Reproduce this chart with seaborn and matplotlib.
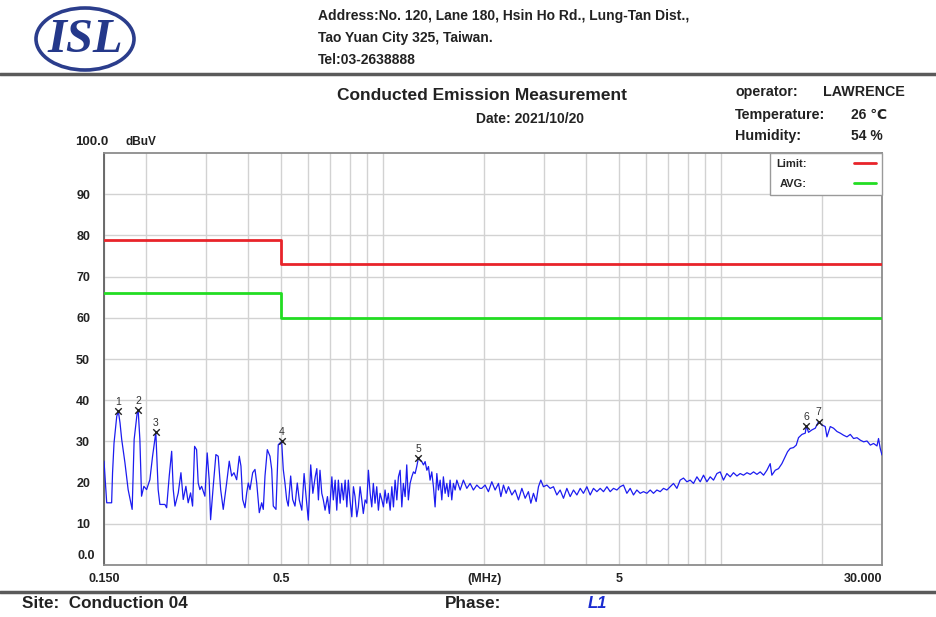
import matplotlib
matplotlib.use("Agg")
import matplotlib.pyplot as plt
import seaborn as sns
import pandas as pd
from matplotlib.lines import Line2D
from matplotlib.patches import Ellipse
from matplotlib.ticker import NullFormatter

# ---------------- data ----------------
seg1_freq = [0.150, 0.1528, 0.158, 0.159, 0.1606, 0.1636, 0.1654, 0.1673, 0.1692, 0.173,
             0.1768, 0.1817, 0.1842, 0.1880, 0.1893, 0.1915, 0.1937, 0.1968, 0.2005, 0.205,
             0.2088, 0.2135, 0.2169, 0.2195, 0.2271, 0.2298, 0.2339, 0.2378, 0.2404, 0.2432,
             0.2487, 0.2533, 0.2573, 0.262, 0.2661, 0.2705, 0.2742, 0.278, 0.2818, 0.2849,
             0.2882, 0.2916, 0.2982, 0.3029, 0.307, 0.31, 0.3156, 0.3214, 0.3265, 0.332,
             0.3379, 0.3458, 0.352, 0.3578, 0.3635, 0.3702, 0.3769, 0.3812, 0.3857, 0.3918,
             0.3964, 0.4007, 0.4054, 0.4129, 0.4194, 0.4244, 0.4319, 0.439, 0.4438, 0.449,
             0.4561, 0.4645, 0.47, 0.4751, 0.4839, 0.4915, 0.5029, 0.5085, 0.5144, 0.5204,
             0.5261, 0.5348, 0.5421, 0.5507, 0.5594]
seg1_level = [25.2, 15.1, 15.1, 22.4, 29.6, 36.1, 37.3, 34.5, 30.5, 24.8,
              18.3, 13.5, 30.5, 36.9, 37.6, 30.5, 16.7, 19.1, 18.3, 20.7,
              26.4, 32.2, 18.3, 14.7, 14.7, 13.9, 21.6, 27.6, 18.3, 14.3,
              17.5, 22.4, 15.9, 19.1, 15.1, 17.5, 14.3, 28.8, 28.0, 19.9,
              18.3, 19.1, 16.7, 27.2, 20.7, 11.0, 19.1, 26.8, 26.4, 18.3,
              13.5, 19.9, 25.2, 21.6, 22.4, 20.7, 26.4, 24.0, 15.9, 13.9,
              17.5, 19.9, 18.3, 22.4, 23.2, 19.9, 12.7, 15.1, 13.5, 21.6,
              28.0, 26.4, 23.2, 14.3, 13.5, 29.2, 30.0, 23.2, 19.9, 15.9,
              14.3, 21.6, 15.9, 14.3, 19.9]

seg2_freq = [0.567, 0.577, 0.586, 0.594, 0.603, 0.613, 0.622, 0.632, 0.639, 0.646,
             0.653, 0.661, 0.668, 0.676, 0.687, 0.696, 0.708, 0.715, 0.724, 0.732,
             0.740, 0.749, 0.757, 0.766, 0.775, 0.784, 0.792, 0.801, 0.811, 0.820,
             0.829, 0.839, 0.848, 0.858, 0.868, 0.877, 0.888, 0.898, 0.908, 0.919,
             0.929, 0.939, 0.950, 0.961, 0.972, 0.983, 0.995, 1.006, 1.017, 1.029,
             1.040, 1.053, 1.065, 1.077, 1.089, 1.102, 1.114, 1.127, 1.140, 1.152,
             1.166, 1.179, 1.192, 1.206, 1.220, 1.234, 1.248, 1.262, 1.276, 1.291,
             1.306, 1.321, 1.336, 1.352, 1.367, 1.382, 1.398, 1.414, 1.430, 1.447,
             1.463, 1.480, 1.497, 1.513, 1.531, 1.549, 1.566, 1.584, 1.602, 1.620,
             1.639, 1.658, 1.696, 1.734, 1.775, 1.815, 1.856, 1.900, 1.943]
seg2_level = [15.8, 13.3, 22.2, 16.6, 10.9, 24.3, 17.4, 21.4, 23.4, 15.8,
              23.0, 17.4, 15.8, 13.3, 16.6, 12.5, 21.4, 15.8, 20.6, 13.3,
              20.6, 15.0, 19.8, 15.8, 20.6, 14.1, 20.6, 15.8, 11.7, 19.0,
              16.6, 11.7, 14.1, 19.0, 15.8, 12.5, 15.8, 15.0, 23.0, 17.4,
              14.1, 19.8, 15.0, 19.0, 13.3, 17.4, 15.8, 14.1, 18.2, 15.0,
              17.4, 13.3, 19.0, 14.1, 20.6, 15.8, 21.4, 23.0, 14.1, 19.8,
              16.6, 24.3, 15.8, 19.8, 21.4, 22.6, 22.2, 23.9, 25.9, 25.5,
              25.1, 24.3, 25.1, 23.0, 23.9, 20.6, 22.6, 19.0, 14.1, 22.2,
              18.2, 20.6, 15.8, 21.4, 17.4, 19.8, 16.6, 20.6, 15.8, 19.8,
              18.2, 20.6, 18.2, 20.6, 18.6, 19.8, 18.2, 19.4, 18.6]

seg3_freq = [1.965, 2.010, 2.056, 2.104, 2.152, 2.202, 2.238, 2.278, 2.320, 2.357,
             2.412, 2.466, 2.523, 2.582, 2.641, 2.700, 2.745, 2.794, 2.846, 2.891,
             2.938, 2.991, 3.062, 3.131, 3.202, 3.277, 3.351, 3.428, 3.508, 3.588,
             3.670, 3.756, 3.842, 3.927, 4.020, 4.112, 4.205, 4.304, 4.402, 4.502,
             4.608, 4.712, 4.819, 4.932, 5.043, 5.158, 5.279, 5.400, 5.522, 5.650,
             5.780, 5.912, 6.050, 6.188, 6.327, 6.476, 6.624, 6.774, 6.933, 7.091,
             7.251, 7.422, 7.589, 7.762, 7.945]
seg3_level = [18.6, 19.4, 17.8, 20.2, 18.2, 19.8, 16.6, 19.4, 17.4, 19.0,
              17.0, 18.2, 15.8, 18.6, 16.2, 17.8, 15.0, 17.4, 15.4, 19.0,
              20.6, 19.0, 19.4, 18.6, 19.0, 17.0, 18.2, 16.2, 18.6, 16.6,
              18.2, 17.0, 18.6, 17.4, 19.0, 17.0, 18.6, 17.8, 18.6, 17.8,
              19.0, 17.8, 18.6, 18.2, 19.0, 19.4, 17.4, 18.6, 17.0, 18.2,
              17.4, 17.8, 17.4, 18.2, 17.4, 18.2, 17.8, 18.6, 18.2, 19.0,
              19.8, 18.6, 20.6, 21.1, 20.2]

seg4_freq = [8.124, 8.311, 8.506, 8.699, 8.897, 9.104, 9.312, 9.524, 9.746, 9.968,
             10.19, 10.43, 10.67, 10.91, 11.17, 11.42, 11.68, 11.96, 12.23, 12.51,
             12.80, 13.09, 13.39, 13.70, 14.01, 14.17, 14.50, 14.83, 15.17, 15.52,
             15.77, 16.06, 16.42, 16.73, 16.99, 17.39, 17.79, 17.91, 18.19, 18.62,
             19.04, 19.47, 19.93, 20.38, 20.62, 21.09, 21.57, 22.08, 22.58, 23.09,
             23.63, 24.17, 24.72, 25.30, 25.88, 26.47, 27.09, 27.71, 28.32, 28.99,
             29.30, 29.64, 30.0]
seg4_level = [20.6, 19.8, 21.4, 20.2, 21.8, 20.2, 21.4, 20.6, 22.2, 22.6,
              20.6, 22.2, 21.4, 22.4, 21.6, 22.2, 21.8, 22.4, 22.0, 22.6,
              22.0, 22.6, 21.8, 23.0, 24.6, 21.8, 23.0, 23.4, 24.6, 26.3,
              27.5, 28.3, 28.5, 29.1, 30.9, 31.7, 32.0, 33.8, 32.2, 32.8,
              33.2, 34.8, 34.0, 33.6, 31.1, 33.6, 33.2, 32.4, 32.0, 31.5,
              31.1, 31.7, 30.7, 30.9, 30.3, 29.9, 30.1, 29.1, 29.5, 28.9,
              30.7, 28.3, 26.7]

limit_freq = [0.15, 0.5, 0.5, 30.0]
limit_qp = [79, 79, 73, 73]
limit_avg = [66, 66, 60, 60]

marker_freq = [0.1654, 0.1893, 0.2135, 0.5029, 1.276, 17.91, 19.47]
marker_level = [37.3, 37.6, 32.2, 30.0, 25.9, 33.8, 34.8]
marker_ids = ["1", "2", "3", "4", "5", "6", "7"]

yticks = [10, 20, 30, 40, 50, 60, 70, 80, 90]
ytick_labels = ["10", "20", "30", "40", "50", "60", "70", "80", "90"]
xticks = [0.15, 0.5, 2, 5, 30]
xtick_labels = ["0.150", "0.5", "(MHz)", "5", "30.000"]
xgrid_minor = [0.2, 0.3, 0.4, 0.6, 0.7, 0.8, 0.9, 1, 3, 4, 6, 7, 8, 9, 10, 20]

# ---------------- style ----------------
sns.set_theme(style="white")
plt.rcParams["font.family"] = ["Liberation Sans", "DejaVu Sans"]
plt.rcParams["font.weight"] = "bold"

RED = "#e8242a"
GREEN = "#22dd22"
BLUE = "#1c1cf0"
GRID = "#d2d2d2"
INK = "#222222"

W, H = 936, 617
fig = plt.figure(figsize=(W / 100, H / 100), dpi=100)
fig.patch.set_facecolor("white")


def fx(px):
    return px / W


def fy(py):
    return 1 - py / H


ax = fig.add_axes([fx(104), fy(565), (882 - 104) / W, (565 - 153) / H])

trace = pd.DataFrame({
    "freq": seg1_freq + seg2_freq + seg3_freq + seg4_freq,
    "level": seg1_level + seg2_level + seg3_level + seg4_level,
})
limits = pd.DataFrame({"freq": limit_freq, "qp": limit_qp, "avg": limit_avg})
markers = pd.DataFrame({"freq": marker_freq, "level": marker_level, "id": marker_ids})

ax.set_xscale("log")
sns.lineplot(data=limits, x="freq", y="qp", estimator=None, sort=False,
             color=RED, lw=2.0, ax=ax, zorder=3)
sns.lineplot(data=limits, x="freq", y="avg", estimator=None, sort=False,
             color=GREEN, lw=2.0, ax=ax, zorder=3)
sns.lineplot(data=trace, x="freq", y="level", estimator=None, sort=False,
             color=BLUE, lw=0.9, ax=ax, zorder=4)
sns.scatterplot(data=markers, x="freq", y="level", marker="x", color="#222222",
                s=22, linewidth=1.0, ax=ax, zorder=5)
for _, r in markers.iterrows():
    ax.annotate(r["id"], (r["freq"], r["level"]), xytext=(0, 3),
                textcoords="offset points", ha="center", va="bottom",
                fontsize=7.5, color="#333333", fontweight="normal", zorder=6)

ax.set_xlim(0.15, 30)
ax.set_ylim(0, 100)
ax.set_xlabel("")
ax.set_ylabel("")

ax.set_xticks(xticks)
ax.set_xticklabels(xtick_labels, fontsize=9, fontweight="bold", color=INK)
ax.get_xticklabels()[-1].set_horizontalalignment("right")
ax.set_xticks(xgrid_minor, minor=True)
ax.xaxis.set_minor_formatter(NullFormatter())
ax.set_yticks(yticks)
ax.set_yticklabels(ytick_labels, fontsize=9, fontweight="bold", color=INK)
ax.tick_params(axis="both", which="both", length=0)
ax.tick_params(axis="x", pad=6)
ax.tick_params(axis="y", pad=10)
ax.grid(True, which="both", axis="x", color=GRID, lw=1.0)
ax.grid(True, which="major", axis="y", color=GRID, lw=1.0)
ax.set_axisbelow(True)
for s in ax.spines.values():
    s.set_color("#8c8c8c")
    s.set_linewidth(1.3)
ax.spines["left"].set_color("#606060")

# y extreme labels
ax.text(-0.012, 2.2, "0.0", transform=ax.get_yaxis_transform(), ha="right",
        va="center", fontsize=9, fontweight="bold", color=INK)
fig.text(fx(75), fy(142), "100.0", ha="left", va="center", fontsize=9.5,
         fontweight="bold", color=INK)
fig.text(fx(125), fy(142), "dBuV", ha="left", va="center", fontsize=8.5,
         fontweight="bold", color=INK)

# legend
handles = [Line2D([], [], color=RED, lw=2), Line2D([], [], color=GREEN, lw=2)]
leg = ax.legend(handles, ["Limit:", "AVG:"], loc="upper right",
                bbox_to_anchor=(1, 1), borderaxespad=0, frameon=True,
                fancybox=False, edgecolor="#9a9a9a", markerfirst=False,
                handlelength=2.0, handletextpad=4.2, borderpad=0.55,
                labelspacing=0.85, prop={"weight": "bold", "size": 8})
leg.get_frame().set_linewidth(1.0)
leg.get_frame().set_alpha(1)

# ---------------- header ----------------
fig.add_artist(Ellipse((fx(85), fy(39)), 98 / W, 62 / H, transform=fig.transFigure,
                       fill=False, edgecolor="#2b3d8c", lw=2.6))
fig.text(fx(85), fy(40), "ISL", ha="center", va="center", fontsize=35,
         family=["Liberation Serif", "DejaVu Serif"], fontweight="bold",
         style="italic", color="#24388a")
fig.text(fx(318), fy(16), "Address:No. 120, Lane 180, Hsin Ho Rd., Lung-Tan Dist.,",
         ha="left", va="center", fontsize=10, fontweight="bold", color=INK)
fig.text(fx(318), fy(38), "Tao Yuan City 325, Taiwan.", ha="left", va="center",
         fontsize=10, fontweight="bold", color=INK)
fig.text(fx(318), fy(60), "Tel:03-2638888", ha="left", va="center",
         fontsize=10, fontweight="bold", color=INK)
fig.add_artist(Line2D([0, 1], [fy(74), fy(74)], transform=fig.transFigure,
                      color="#5a5a5a", lw=2.5))

fig.text(fx(482), fy(96), "Conducted Emission Measurement", ha="center",
         va="center", fontsize=12.5, fontweight="bold", color=INK)
fig.text(fx(530), fy(119), "Date: 2021/10/20", ha="center", va="center",
         fontsize=10, fontweight="bold", color=INK)

fig.text(fx(735), fy(92), "operator:", ha="left", va="center", fontsize=10.3,
         fontweight="bold", color=INK)
fig.text(fx(823), fy(92), "LAWRENCE", ha="left", va="center", fontsize=10.3,
         fontweight="bold", color=INK)
fig.text(fx(735), fy(115), "Temperature:", ha="left", va="center", fontsize=10.3,
         fontweight="bold", color=INK)
fig.text(fx(851), fy(115), "26 \u2103", ha="left", va="center", fontsize=10,
         fontweight="bold", color=INK)
fig.text(fx(735), fy(136), "Humidity:", ha="left", va="center", fontsize=10.3,
         fontweight="bold", color=INK)
fig.text(fx(851), fy(136), "54 %", ha="left", va="center", fontsize=10,
         fontweight="bold", color=INK)

# ---------------- footer ----------------
fig.add_artist(Line2D([0, 1], [fy(592), fy(592)], transform=fig.transFigure,
                      color="#5a5a5a", lw=2.5))
fig.text(fx(22), fy(604), "Site:  Conduction 04", ha="left", va="center",
         fontsize=12.3, fontweight="bold", color=INK)
fig.text(fx(445), fy(604), "Phase:", ha="left", va="center", fontsize=12.3,
         fontweight="bold", color=INK)
fig.text(fx(588), fy(604), "L1", ha="left", va="center", fontsize=12,
         fontweight="bold", style="italic", color="#1a2bd0")

fig.savefig("out.png", dpi=100, facecolor="white")
